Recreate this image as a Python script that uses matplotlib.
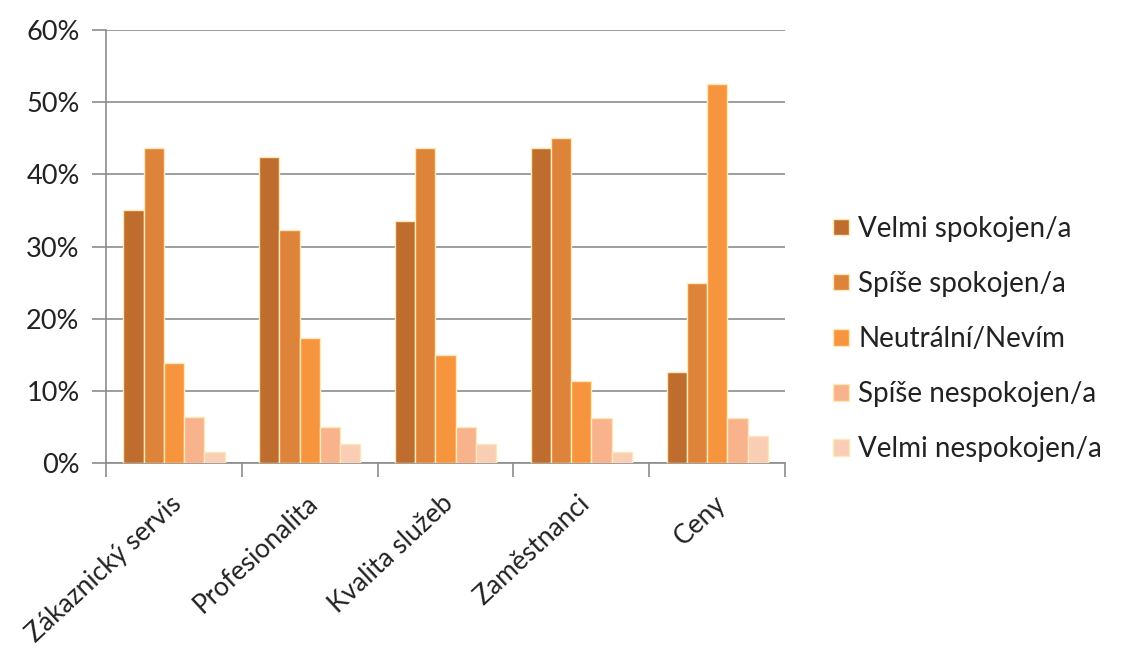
import numpy as np
from matplotlib import pyplot as plt
from matplotlib.ticker import FuncFormatter

plt.rcParams['font.family'] = ['Lato', 'DejaVu Sans']

categories = ['Zákaznický servis', 'Profesionalita', 'Kvalita služeb', 'Zaměstnanci', 'Ceny']
series = ['Velmi spokojen/a', 'Spíše spokojen/a', 'Neutrální/Nevím', 'Spíše nespokojen/a', 'Velmi nespokojen/a']
velmiSpokojen = [35.0, 42.4, 33.6, 43.6, 12.6]
spiseSpokojen = [43.6, 32.3, 43.6, 45.0, 24.9]
neutralni = [13.8, 17.3, 15.0, 11.3, 52.5]
spiseNespokojen = [6.4, 5.0, 5.0, 6.3, 6.3]
velmiNespokojen = [1.5, 2.7, 2.6, 1.5, 3.7]
colors = ['#BF6D2F', '#DE843A', '#F7953F', '#F9B38C', '#FACDB5']

values = [velmiSpokojen, spiseSpokojen, neutralni, spiseNespokojen, velmiNespokojen]

fig = plt.figure(figsize=(11.29, 6.61), dpi=100)
ax = fig.add_axes([0.0939, 0.2995, 0.6015, 0.6551])

x = np.arange(len(categories))
w = 0.149
for k in range(len(series)):
    ax.bar(x + (k - 2) * w, values[k], width=w, color=colors[k], edgecolor='#FCE9B8',
           linewidth=1.0, label=series[k], zorder=3)

ax.set_xlim(-0.5, len(categories) - 0.5)
ax.set_ylim(0, 60)
ax.set_yticks(np.arange(0, 61, 10))
ax.yaxis.set_major_formatter(FuncFormatter(lambda v, p: '%d%%' % v))
ax.grid(axis='y', color='#8C8C8C', linewidth=1.2, zorder=0)

ax.set_xticks(x - 0.03)
ax.set_xticklabels(categories, rotation=43, ha='right', rotation_mode='anchor')
ax.set_xticks(np.arange(-0.5, len(categories), 1), minor=True)
ax.tick_params(axis='x', which='major', length=0, pad=20, labelsize=19, labelcolor='#222222')
ax.tick_params(axis='x', which='minor', length=10, width=1.2, color='#8C8C8C')
ax.tick_params(axis='y', length=10, width=1.2, color='#8C8C8C', labelsize=19.5, labelcolor='#222222', pad=9)

for s in ['top', 'right']:
    ax.spines[s].set_visible(False)
for s in ['left', 'bottom']:
    ax.spines[s].set_color('#8C8C8C')
    ax.spines[s].set_linewidth(1.2)

handles, labels = ax.get_legend_handles_labels()
fig.legend(handles, labels, loc='center left', bbox_to_anchor=(0.716, 0.487), frameon=False,
           fontsize=20, handlelength=0.55, handleheight=0.55, handletextpad=0.35, labelspacing=1.05,
           labelcolor='#222222')

plt.savefig('out.png', dpi=100)
